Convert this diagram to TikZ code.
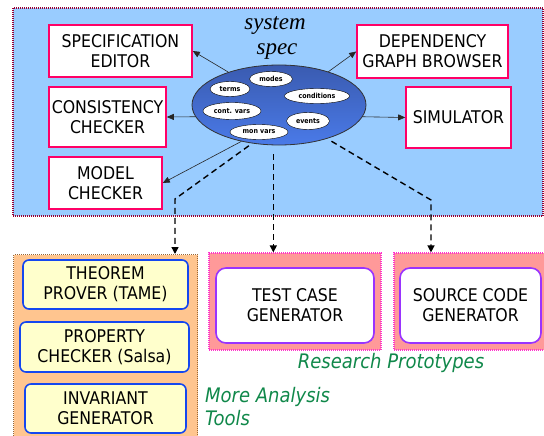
\documentclass[tikz,border=0pt]{standalone}
\usepackage{fontspec}
\setmainfont{DejaVu Sans Condensed}
\newfontfamily\specfont{Liberation Serif}
\usetikzlibrary{shapes.geometric,arrows.meta}
\definecolor{skyblue}{HTML}{99CCFF}
\definecolor{areared}{HTML}{990033}
\definecolor{boxpink}{HTML}{FF0066}
\definecolor{peach}{HTML}{FFC58F}
\definecolor{areabrown}{HTML}{996633}
\definecolor{paleyellow}{HTML}{FFFFCC}
\definecolor{boxblue}{HTML}{1447F0}
\definecolor{salmon}{HTML}{FF9999}
\definecolor{areamagenta}{HTML}{FF33CC}
\definecolor{boxpurple}{HTML}{9933FF}
\definecolor{labelgreen}{HTML}{10884A}
\definecolor{ovaltop}{HTML}{3A5BB0}
\definecolor{ovalmid}{HTML}{101A46}
\definecolor{ovalbottom}{HTML}{4A7AE8}
\begin{document}
\begin{tikzpicture}[x=1pt, y=-1pt,
    every node/.style={font=\fontsize{17.5}{20}\selectfont, align=center, inner sep=0pt},
    area/.style={draw=#1, line width=1.2pt, dash pattern=on 1pt off 1pt},
    toolbox/.style={draw=boxpink, line width=1.6pt, fill=white},
    analysisbox/.style={draw=boxblue, line width=1.6pt, fill=paleyellow, rounded corners=6pt},
    genbox/.style={draw=boxpurple, line width=1.6pt, fill=white, rounded corners=10pt},
    item/.style={ellipse, draw, fill=white, minimum height=15pt, font=\bfseries\fontsize{7}{8}\selectfont},
    conn/.style={-{Triangle[length=7pt,width=6pt]}, line width=0.6pt, draw=black!85},
    dashconn/.style={-{Triangle[length=7pt,width=7pt]}, line width=1.4pt, dash pattern=on 6pt off 4pt},
    note/.style={text=labelgreen, font=\itshape\fontsize{20}{23}\selectfont} % green captions
]
    \useasboundingbox (0,0) rectangle (544,436);

    % system spec area
    \node [area=areared, fill=skyblue, minimum width=530pt, minimum height=208pt] (specarea) at (278,112) {};
    \node [anchor=base, font=\specfont\itshape\fontsize{23}{25}\selectfont] (sysword) at (275,30) {system};
    \node [anchor=base, font=\specfont\itshape\fontsize{23}{25}\selectfont] (specword) at (277,55) {spec};
    \node [ellipse, draw=black!80, line width=0.8pt, minimum width=174pt, minimum height=80pt,
           top color=ovaltop, middle color=ovalmid, bottom color=ovalbottom] (spec) at (279,105) {};
    \node [item, minimum width=43pt] (modes) at (271,79) {modes};
    \node [item, minimum width=40pt] (terms) at (230,89) {terms};
    \node [item, minimum width=65pt] (conds) at (317,96) {conditions};
    \node [item, minimum width=58pt, minimum height=17pt] (contvars) at (232,111) {cont. vars};
    \node [item, minimum width=43pt, minimum height=17pt] (events) at (308,121) {events};
    \node [item, minimum width=58pt] (monvars) at (259,132) {mon vars};

    \node [toolbox, minimum width=143pt, minimum height=52pt] (editor) at (120.5,51) {SPECIFICATION\\EDITOR};
    \node [toolbox, minimum width=117pt, minimum height=60pt] (consist) at (107.5,117) {CONSISTENCY\\CHECKER};
    \node [toolbox, minimum width=113pt, minimum height=52pt] (modelchk) at (105.5,183) {MODEL\\CHECKER};
    \node [toolbox, minimum width=151pt, minimum height=53pt] (depgraph) at (432.5,51.5) {DEPENDENCY\\GRAPH BROWSER};
    \node [toolbox, minimum width=105pt, minimum height=61pt] (simul) at (458.5,117.5) {SIMULATOR};

    \draw [conn] (spec.147) -- (editor.east);
    \draw [conn] (spec.34) -- (depgraph.west);
    \draw [conn] (spec.188) -- (consist.east);
    \draw [conn] (spec.352) -- (simul.west);
    \draw [conn] (spec.224) -- (modelchk.east);

    % analysis tools
    \node [area=areabrown, fill=peach, anchor=north west, minimum width=184pt, minimum height=190pt] (toolsarea) at (13,254) {};
    \node [analysisbox, minimum width=165pt, minimum height=49pt] (tame) at (105.5,284.5) {THEOREM\\PROVER (TAME)};
    \node [analysisbox, minimum width=169pt, minimum height=50pt] (salsa) at (104.5,347) {PROPERTY\\CHECKER (Salsa)};
    \node [analysisbox, minimum width=161pt, minimum height=49pt] (invgen) at (105.5,408.5) {INVARIANT\\GENERATOR};

    % prototypes
    \node [area=areamagenta, fill=salmon, minimum width=172pt, minimum height=97pt] (testarea) at (295,301.5) {};
    \node [genbox, minimum width=158pt, minimum height=75pt] (testgen) at (295,305.5) {TEST CASE\\GENERATOR};
    \node [area=areamagenta, fill=salmon, minimum width=154pt, minimum height=97pt] (srcarea) at (471,301.5) {};
    \node [genbox, minimum width=141pt, minimum height=75pt] (srcgen) at (470.5,305.5) {SOURCE CODE\\GENERATOR};

    \node [note] (protolabel) at (391,363) {Research Prototypes};
    \node [note, anchor=north west, align=left] (morelabel) at (205,387) {More Analysis\\Tools};

    \coordinate (bendl) at (175,199);
    \coordinate (bendr) at (431,200);
    \draw [dashconn, shorten <=4pt] (spec.235) -- (bendl) -- (bendl |- toolsarea.north);
    \draw [dashconn, shorten <=9pt] (spec.262) -- (spec.262 |- testarea.north);
    \draw [dashconn, shorten <=5pt] (spec.325) -- (bendr) -- (bendr |- srcarea.north);
\end{tikzpicture}
\end{document}
